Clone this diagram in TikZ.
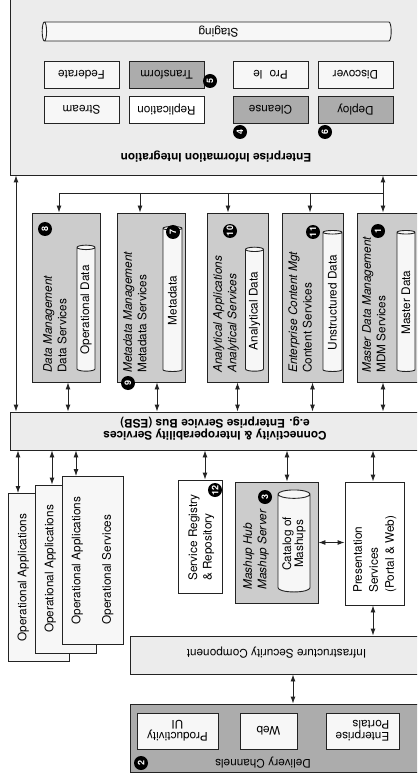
\documentclass[tikz,border=0pt]{standalone}
\usepackage{fontspec}
\setmainfont{TeX Gyre Heros}
\usepackage{tikz}
\usetikzlibrary{positioning,arrows.meta,shapes.geometric}
\definecolor{paleGray}{RGB}{236,236,236}
\definecolor{midGray}{RGB}{204,204,204}
\definecolor{darkGray}{RGB}{172,172,172}
\definecolor{boxWhite}{RGB}{247,247,247}
\definecolor{lineGray}{RGB}{35,35,35}
\newcommand{\dgmfont}{\fontsize{11.8}{14.5}\selectfont}
\newcommand{\tightfont}{\fontsize{11.8}{12}\selectfont}

\begin{document}
\begin{tikzpicture}[x=1pt, y=-1pt,
  every node/.style={font=\dgmfont},
  block/.style={draw=lineGray, line width=0.9pt, inner sep=2pt, align=center},
  pale/.style={block, fill=paleGray},
  mid/.style={block, fill=midGray},
  dark/.style={block, fill=darkGray},
  light/.style={block, fill=boxWhite},
  blank/.style={block, fill=white},
  small/.style={light, rotate=180, minimum width=75pt, minimum height=27pt},
  title/.style={inner sep=0pt, align=left, rotate=90, anchor=north west},
  store/.style={draw=lineGray, line width=0.9pt, fill=boxWhite, cylinder, shape aspect=0.33, inner sep=1pt, align=center},
  badge/.style={circle, fill=black, text=white, inner sep=0pt, minimum size=14pt, rotate=90, font=\bfseries\fontsize{9}{9}\selectfont},
  arr/.style={-{Latex[length=7pt,width=5pt]}, line width=0.9pt, draw=lineGray},
  darr/.style={{Latex[length=7pt,width=5pt]}-{Latex[length=7pt,width=5pt]}, line width=0.9pt, draw=lineGray}
]
\useasboundingbox (0,0) rectangle (417,783);
\clip (0,0) rectangle (417,783);

% enterprise information integration
\node[pale, minimum width=412pt, minimum height=200pt] (eii) at (216,75) {};
\node[store, rotate=180, minimum height=349pt, minimum width=19pt] (staging) at (218.5,31.5) {Staging};
\node[small] (federate) at (81.5,74.5) {Federate};
\node[small, fill=darkGray] (transform) at (166.5,74.5) {Transform};
\node[small] (profile) at (270.5,74.5) {Pro\hspace{0.6em}le};
\node[small] (discover) at (355.5,74.5) {Discover};
\node[small] (stream) at (81.5,110) {Stream};
\node[small, fill=white] (replication) at (166.5,110) {Replication};
\node[small, fill=darkGray] (cleanse) at (270.5,110) {Cleanse};
\node[small, fill=darkGray] (deploy) at (355.5,110) {Deploy};
\node[rotate=180, font=\dgmfont\bfseries] (eiiTitle) at (216,157) {Enterprise Information Integration};

% data services row
\node[mid, minimum width=68pt, minimum height=169pt] (dataMgmt) at (66,297.5) {};
\node[mid, minimum width=68pt, minimum height=169pt] (metaMgmt) at (151,297.5) {};
\node[mid, minimum width=61pt, minimum height=169pt] (analytics) at (237.5,297.5) {};
\node[mid, minimum width=61pt, minimum height=169pt] (contentMgt) at (312.5,297.5) {};
\node[mid, minimum width=70pt, minimum height=169pt] (masterData) at (392,297.5) {};

\node[title] (dataTitle) at (43,373) {{\itshape Data Management}\\Data Services};
\node[title] (metaTitle) at (123,373) {{\itshape Metadata Management}\\Metadata Services};
\node[title] (anaTitle) at (213,373) {{\itshape Analytical Applications}\\{\itshape Analytical Services}};
\node[title] (ecmTitle) at (288,373) {{\itshape Enterprise Content Mgt}\\Content Services};
\node[title] (mdmTitle) at (362,373) {{\itshape Master Data Management}\\MDM Services};

\node[store, rotate=90, minimum height=126pt, minimum width=18pt] (opData) at (86,310) {Operational Data};
\node[store, rotate=90, minimum height=145pt, minimum width=19pt] (metaStore) at (172.5,300.5) {Metadata};
\node[store, rotate=90, minimum height=124pt, minimum width=18pt] (anaStore) at (254.5,311) {Analytical Data};
\node[store, rotate=90, minimum height=141pt, minimum width=19pt] (ucsStore) at (332.5,302.5) {Unstructured Data};
\node[store, rotate=90, minimum height=141pt, minimum width=18pt] (mdStore) at (406,302.5) {Master Data};

% bus
\node[pale, minimum width=410pt, minimum height=38pt] (esb) at (215,431) {};
\node[rotate=180, align=center, font=\tightfont\bfseries] (esbText) at (215,429) {Connectivity \& Interoperability Services\\e.g. Enterprise Service Bus (ESB)};

% operational applications
\node[light, rotate=90, minimum width=168pt, minimum height=61pt, align=left] (opBack) at (38.5,577.5) {Operational Applications\\[16pt]Operational Services};
\node[light, rotate=90, minimum width=168pt, minimum height=61pt, align=left] (opMid) at (65.5,569) {Operational Applications\\[16pt]Operational Services};
\node[light, rotate=90, minimum width=168pt, minimum height=61pt, align=left] (opFront) at (92.5,560.5) {Operational Applications\\[16pt]Operational Services};

% registry, mashups, presentation
\node[blank, minimum width=44pt, minimum height=113pt] (registry) at (200,536.5) {};
\node[title] (registryTitle) at (188,581) {Service Registry\\\& Repository};
\node[mid, minimum width=83pt, minimum height=121pt] (mashup) at (276.5,542.5) {};
\node[title] (mashupTitle) at (243,590) {{\itshape Mashup Hub}\\{\itshape Mashup Server}};
\node[store, rotate=90, minimum height=102pt, minimum width=32pt, font=\tightfont] (catalog) at (294,544) {Catalog of\\Mashups};
\node[blank, minimum width=59pt, minimum height=123pt] (presentation) at (374.5,543.5) {};
\node[title, font=\fontsize{11.8}{16}\selectfont] (presentationTitle) at (353,593) {Presentation\\Services\\(Portal \& Web)};

% security and delivery
\node[pale, minimum width=293pt, minimum height=38pt] (security) at (276.5,655) {};
\node[rotate=180] (securityText) at (276.5,653) {Infrastructure Security Component};
\node[dark, minimum width=295pt, minimum height=68pt] (delivery) at (277.5,738) {};
\node[light, rotate=180, minimum width=73pt, minimum height=36pt, align=left, font=\tightfont] (portals) at (362.5,731) {Enterprise\\Portals};
\node[light, rotate=180, minimum width=57pt, minimum height=36pt] (web) at (268.5,731) {Web};
\node[light, rotate=180, minimum width=81pt, minimum height=36pt, font=\tightfont] (productivity) at (177.5,731) {Productivity\\UI};
\node[rotate=180] (deliveryTitle) at (263,763) {Delivery Channels};

% connectors
\coordinate (eiiLeft) at (16,300);
\draw[darr] (esb.north -| eiiLeft) -- (eii.south -| eiiLeft);
\coordinate (j1) at (59,193);
\coordinate (j2) at (140,193);
\coordinate (j3) at (228,193);
\coordinate (j4) at (310,193);
\coordinate (j5) at (383,193);
\draw[line width=0.9pt, draw=lineGray] (j1) -- (j5);
\draw[darr] (j5 |- masterData.north) -- (j5 |- eii.south);
\draw[arr] (j1) -- (j1 |- dataMgmt.north);
\draw[arr] (j2) -- (j2 |- metaMgmt.north);
\draw[arr] (j3) -- (j3 |- analytics.north);
\draw[arr] (j4) -- (j4 |- contentMgt.north);
\foreach \blk/\dx in {dataMgmt/2, metaMgmt/6, analytics/0, contentMgt/0, masterData/-9}
  \draw[darr] ([xshift=\dx pt]\blk.south) -- ([xshift=\dx pt]\blk.south |- esb.north);
\foreach \card/\dx in {opBack/-20.5, opMid/-13.5, opFront/-16.5}
  \draw[darr] ([xshift=\dx pt]\card.east |- esb.south) -- ([xshift=\dx pt]\card.east);
\draw[darr] ([xshift=5pt]registry.north |- esb.south) -- ([xshift=5pt]registry.north);
\draw[darr] ([xshift=10.5pt]mashup.north |- esb.south) -- ([xshift=10.5pt]mashup.north);
\draw[darr] ([xshift=-1.5pt]presentation.north |- esb.south) -- ([xshift=-1.5pt]presentation.north);
\draw[darr] (mashup.east) -- (mashup.east -| presentation.west);
\draw[darr] ([xshift=-1.5pt]presentation.south) -- ([xshift=-1.5pt]presentation.south |- security.north);
\draw[darr] ([xshift=16.5pt]security.south) -- ([xshift=16.5pt]security.south |- delivery.north);

% badges
\node[badge] (b1) at (378,231) {1};
\node[badge] (b2) at (141,763) {2};
\node[badge] (b3) at (265,497) {3};
\node[badge] (b4) at (240,132) {4};
\node[badge] (b5) at (210,81) {5};
\node[badge] (b6) at (325,132) {6};
\node[badge] (b7) at (173,232) {7};
\node[badge] (b8) at (45,229) {8};
\node[badge] (b9) at (128,383) {9};
\node[badge] (b10) at (230,231) {10};
\node[badge] (b11) at (313,232) {11};
\node[badge] (b12) at (215,490) {12};
\end{tikzpicture}
\end{document}
